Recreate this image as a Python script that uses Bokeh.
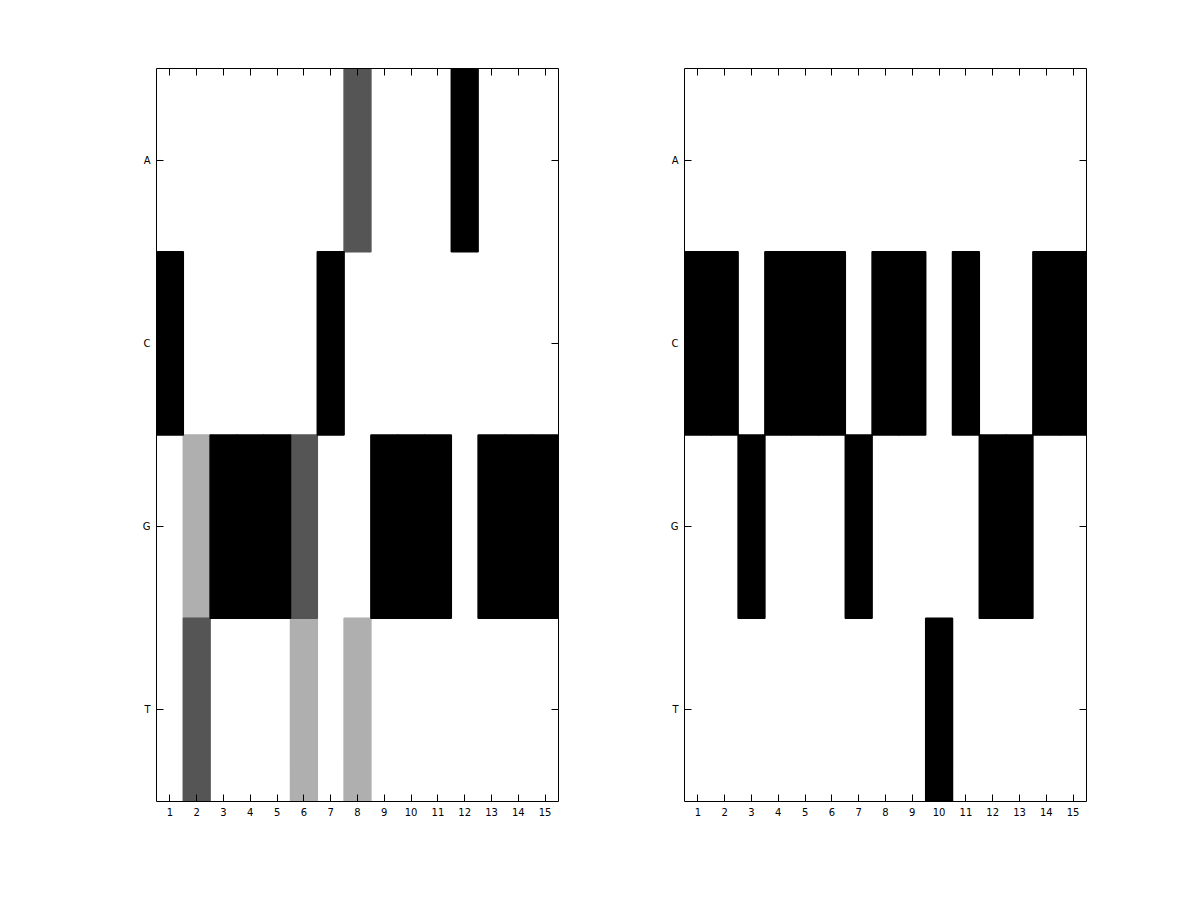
from bokeh.plotting import figure
from bokeh.models import FactorRange, CategoricalAxis, ColumnDataSource, LinearColorMapper
from bokeh.layouts import row
from bokeh.embed import file_html
from bokeh.resources import INLINE

bases = ["A", "C", "G", "T"]
positions = [str(i) for i in range(1, 16)]

left_A = [0, 0, 0, 0, 0, 0, 0, 2/3, 0, 0, 0, 1, 0, 0, 0]
left_C = [1, 0, 0, 0, 0, 0, 1, 0, 0, 0, 0, 0, 0, 0, 0]
left_G = [0, 1/3, 1, 1, 1, 2/3, 0, 0, 1, 1, 1, 0, 1, 1, 1]
left_T = [0, 2/3, 0, 0, 0, 1/3, 0, 1/3, 0, 0, 0, 0, 0, 0, 0]

right_A = [0, 0, 0, 0, 0, 0, 0, 0, 0, 0, 0, 0, 0, 0, 0]
right_C = [1, 1, 0, 1, 1, 1, 0, 1, 1, 0, 1, 0, 0, 1, 1]
right_G = [0, 0, 1, 0, 0, 0, 1, 0, 0, 0, 0, 1, 1, 0, 0]
right_T = [0, 0, 0, 0, 0, 0, 0, 0, 0, 1, 0, 0, 0, 0, 0]

gray_levels = ["#ffffff", "#afafaf", "#555555", "#000000"]

FONT = "DejaVu Sans"


def make_panel(rows, border_left, border_right):
    cells = []
    for b, vals in zip(bases, rows):
        for pos, v in zip(positions, vals):
            cells.append((v, pos, b))
    # draw lighter cells first, darker cells on top
    cells.sort(key=lambda c: c[0])
    src = ColumnDataSource(dict(x=[c[1] for c in cells],
                                y=[c[2] for c in cells],
                                v=[c[0] for c in cells]))
    mapper = LinearColorMapper(palette=gray_levels, low=0, high=1)
    p = figure(
        x_range=FactorRange(*positions),
        y_range=FactorRange(*bases[::-1]),
        frame_width=402, frame_height=733,
        min_border_left=border_left, min_border_right=border_right,
        min_border_top=68, min_border_bottom=60,
        output_backend="svg", toolbar_location=None,
        x_axis_location=None, y_axis_location=None,
    )
    p.rect(x="x", y="y", width=1, height=1, source=src,
           fill_color={"field": "v", "transform": mapper},
           line_color={"field": "v", "transform": mapper}, line_width=1.5)
    p.grid.visible = False
    p.outline_line_color = None
    p.background_fill_color = "white"
    p.border_fill_color = "white"
    for side in ["below", "left", "above", "right"]:
        ax = CategoricalAxis()
        ax.major_tick_in = 7
        ax.major_tick_out = 0
        ax.axis_line_color = "black"
        ax.axis_line_width = 1
        ax.major_tick_line_color = "black"
        ax.major_label_text_font = FONT
        ax.major_label_text_font_size = "10px"
        ax.major_label_text_color = "black"
        ax.major_label_standoff = 6
        if side in ("above", "right"):
            ax.major_label_text_alpha = 0
            ax.major_label_text_font_size = "1px"
            ax.major_label_standoff = 0
        p.add_layout(ax, side)
    return p


p1 = make_panel([left_A, left_C, left_G, left_T], 156, 63)
p2 = make_panel([right_A, right_C, right_G, right_T], 63, 20)
layout = row(p1, p2)

open("out.html", "w").write(file_html(layout, INLINE))
